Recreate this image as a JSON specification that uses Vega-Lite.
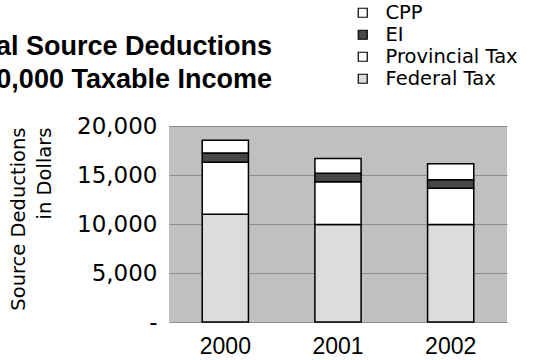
{
  "$schema": "https://vega.github.io/schema/vega-lite/v6.json",
  "autosize": {"type": "none"},
  "width": 338,
  "height": 196,
  "padding": {"left": 169, "top": 126, "right": 31, "bottom": 38},
  "background": "#ffffff",
  "title": {
    "text": ["Total Source Deductions", "on $60,000 Taxable Income"],
    "anchor": "start",
    "frame": "group",
    "align": "right",
    "dx": 103,
    "offset": -91,
    "font": "Liberation Sans",
    "fontSize": 27,
    "fontWeight": "bold",
    "color": "#000000",
    "lineHeight": 33
  },
  "data": {
    "values": [
      {"year": "2000", "type": "Federal Tax", "value": 11000, "ord": 1},
      {"year": "2000", "type": "Provincial Tax", "value": 5300, "ord": 2},
      {"year": "2000", "type": "EI", "value": 950, "ord": 3},
      {"year": "2000", "type": "CPP", "value": 1300, "ord": 4},
      {"year": "2001", "type": "Federal Tax", "value": 9950, "ord": 1},
      {"year": "2001", "type": "Provincial Tax", "value": 4350, "ord": 2},
      {"year": "2001", "type": "EI", "value": 880, "ord": 3},
      {"year": "2001", "type": "CPP", "value": 1500, "ord": 4},
      {"year": "2002", "type": "Federal Tax", "value": 9950, "ord": 1},
      {"year": "2002", "type": "Provincial Tax", "value": 3700, "ord": 2},
      {"year": "2002", "type": "EI", "value": 860, "ord": 3},
      {"year": "2002", "type": "CPP", "value": 1650, "ord": 4}
    ]
  },
  "mark": {"type": "bar", "stroke": "#000000", "strokeWidth": 1.5},
  "encoding": {
    "x": {
      "field": "year",
      "type": "ordinal",
      "scale": {"paddingInner": 0.59, "paddingOuter": 0.295},
      "axis": {
        "title": null,
        "labelAngle": 0,
        "labelFont": "Liberation Sans",
        "labelFontSize": 23,
        "labelColor": "#000000",
        "labelPadding": 13,
        "ticks": false,
        "domain": false
      }
    },
    "y": {
      "field": "value",
      "type": "quantitative",
      "stack": "zero",
      "scale": {"domain": [0, 20000], "nice": false},
      "axis": {
        "values": [0, 5000, 10000, 15000, 20000],
        "labelExpr": "datum.value === 0 ? '-\u00a0\u00a0\u00a0\u00a0\u00a0\u00a0\u00a0\u00a0' : format(datum.value, ',')",
        "labelFont": "DejaVu Sans",
        "labelFontSize": 23,
        "labelColor": "#000000",
        "labelPadding": 12,
        "ticks": false,
        "domain": false,
        "grid": true,
        "gridColor": "#8c8c8c",
        "gridWidth": 1,
        "title": ["Source Deductions", "in Dollars"],
        "titleFont": "DejaVu Sans",
        "titleFontSize": 19.5,
        "titleFontWeight": "normal",
        "titleColor": "#000000",
        "titleAngle": -90,
        "titleAlign": "right",
        "titleBaseline": "top",
        "titleLineHeight": 26,
        "titleX": -160,
        "titleY": 1
      }
    },
    "color": {
      "field": "type",
      "type": "nominal",
      "scale": {
        "domain": ["CPP", "EI", "Provincial Tax", "Federal Tax"],
        "range": ["#ffffff", "#474747", "#ffffff", "#dcdcdc"]
      },
      "legend": {
        "title": null,
        "orient": "none",
        "legendX": 184,
        "legendY": -123,
        "padding": 0,
        "symbolType": "square",
        "symbolSize": 81,
        "symbolStrokeColor": "#000000",
        "symbolStrokeWidth": 1.2,
        "symbolOpacity": 1,
        "labelFont": "DejaVu Sans",
        "labelFontSize": 19.5,
        "labelColor": "#000000",
        "labelOffset": 13,
        "rowPadding": 1
      }
    },
    "order": {"field": "ord", "type": "quantitative"}
  },
  "config": {
    "view": {"fill": "#c0c0c0", "stroke": null}
  }
}
